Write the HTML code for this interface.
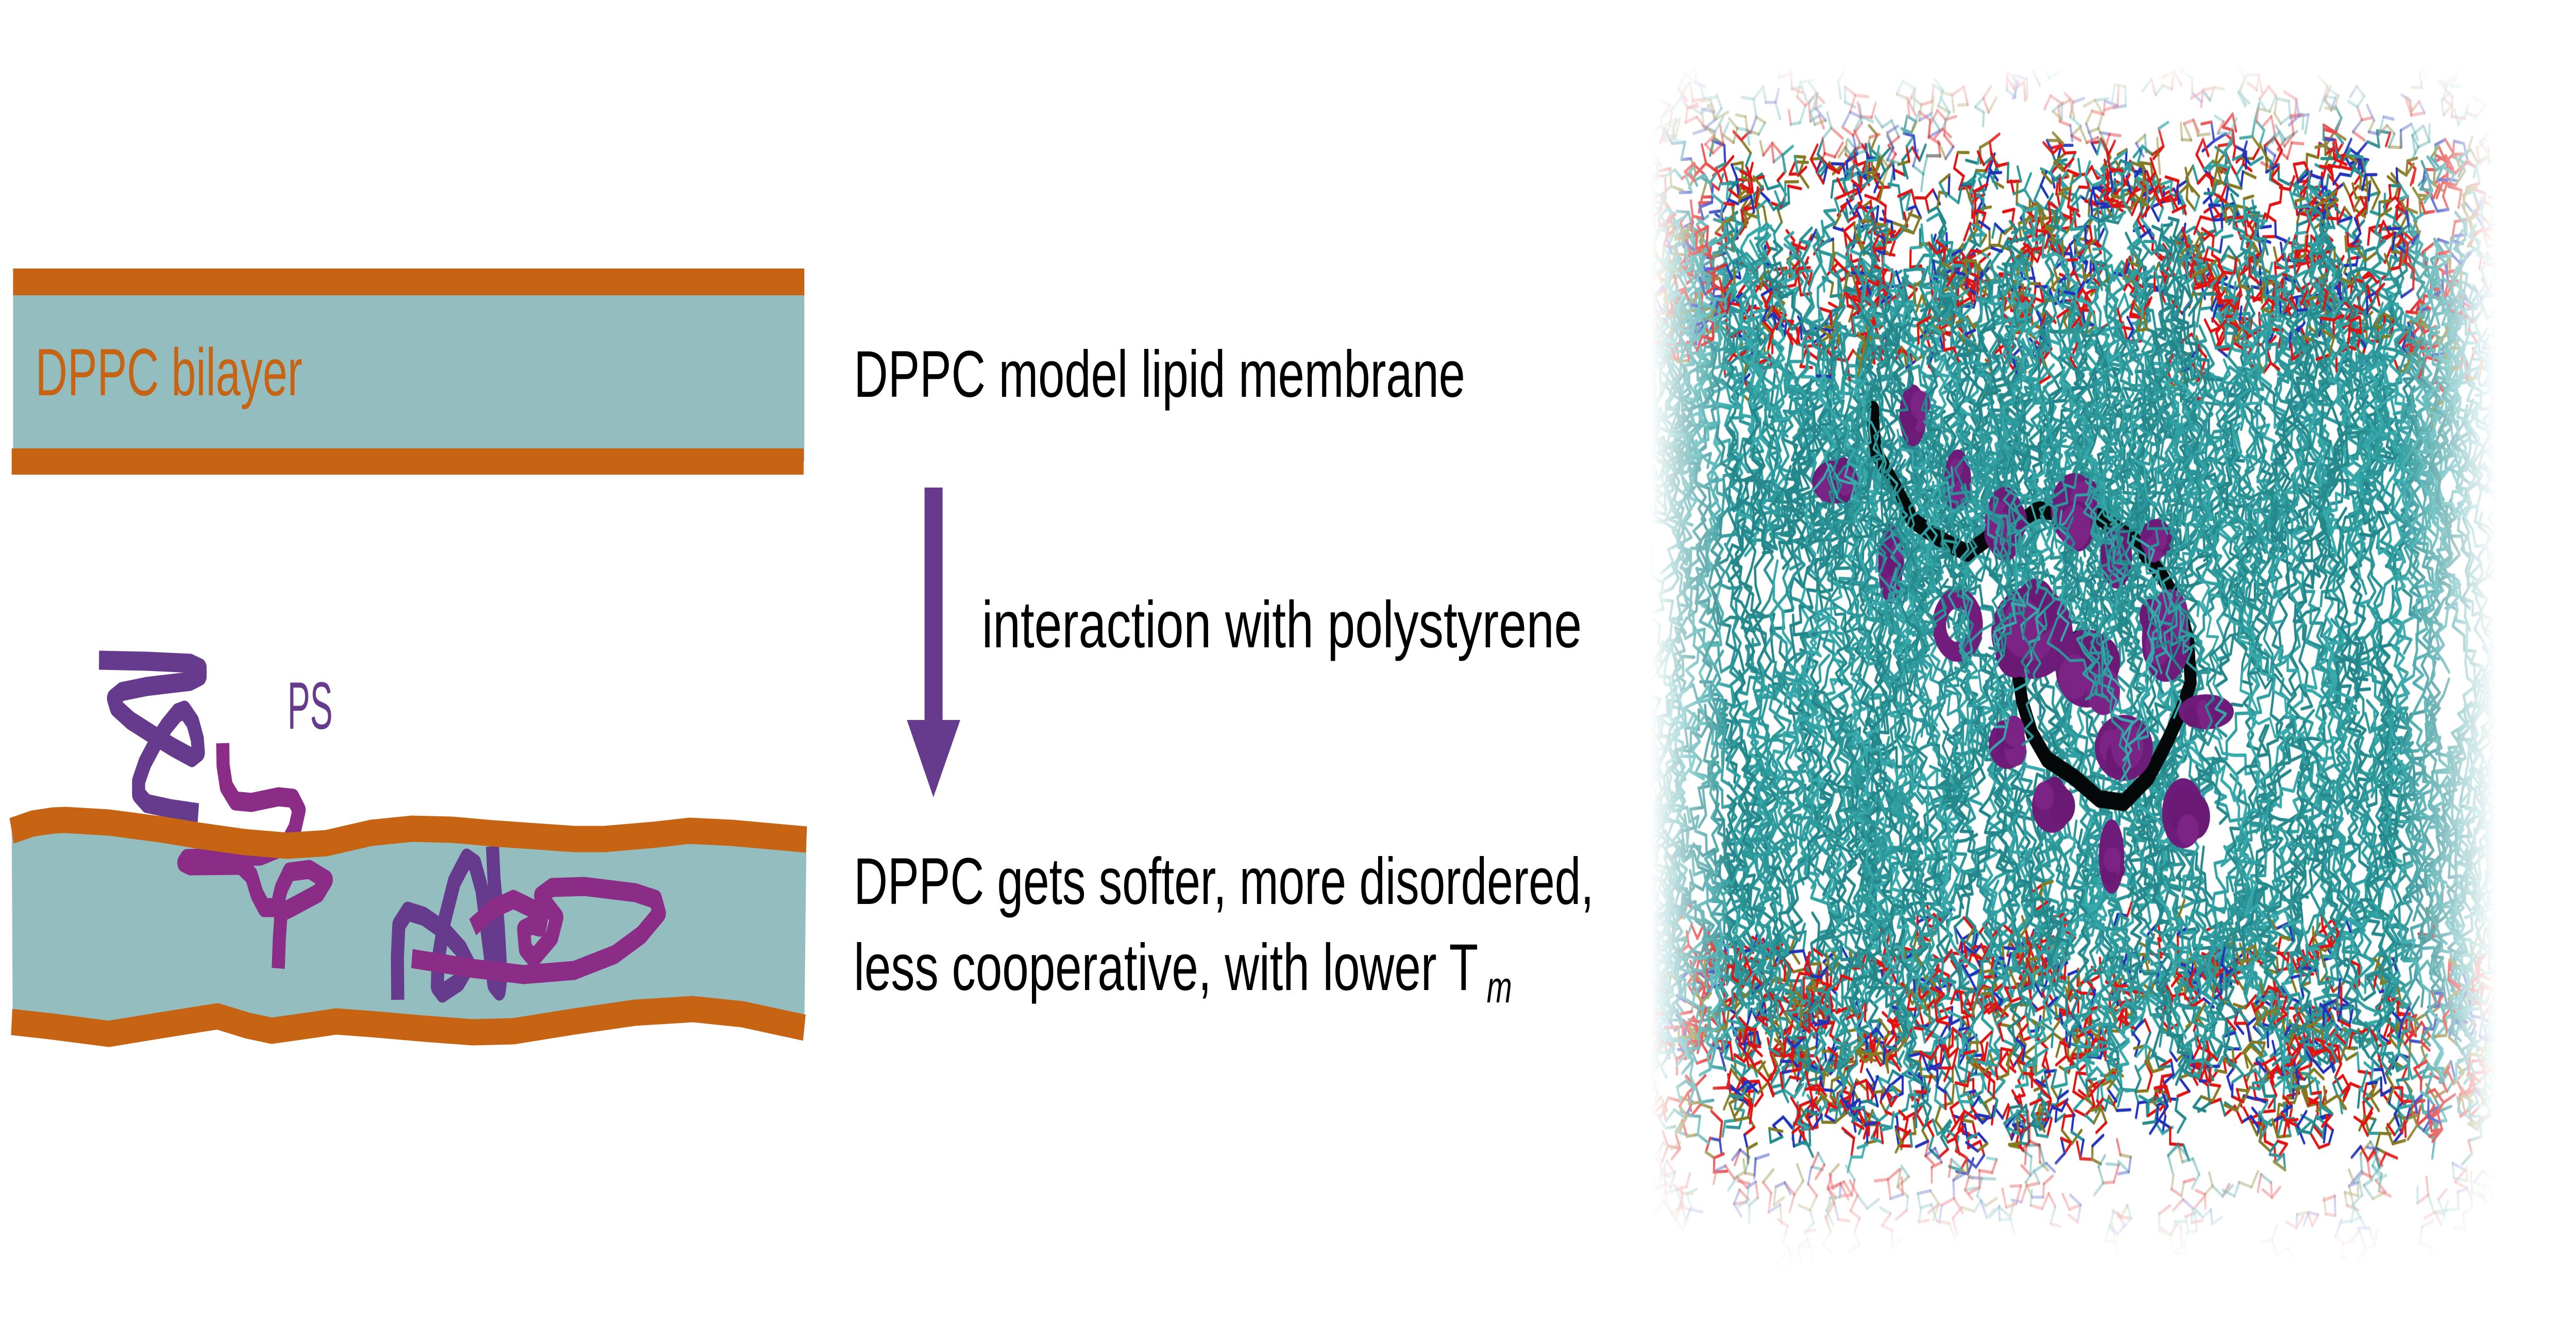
<!DOCTYPE html>
<html>
<head>
<meta charset="utf-8">
<style>
html,body{margin:0;padding:0;width:100%;height:100%;overflow:hidden;background:#fff;}
#wrap{position:relative;width:100vw;height:100vh;overflow:hidden;}
#wrap svg{position:absolute;left:0;top:0;width:100%;height:100%;}
svg text{font-family:"Liberation Sans",Arial,sans-serif;}
#fb{position:absolute;left:65.605%;top:10.761%;width:30.195%;height:77.633%;background:#8cc0c0;filter:blur(30px);}
#md{position:absolute;left:63.1348%;top:0;width:36.8652%;height:100%;}
</style>
</head>
<body>
<div id="wrap">
<svg viewBox="0 0 7286 2602" preserveAspectRatio="none">
  <!-- top flat bilayer -->
  <rect x="37" y="548" width="2238" height="348" fill="#94bdbf"/>
  <rect x="37" y="521" width="2238" height="52" fill="#c66414"/>
  <rect x="33" y="870" width="2240" height="51" fill="#c66414"/>
  <text x="100" y="767" font-size="130" textLength="755" lengthAdjust="spacingAndGlyphs" fill="#c66414">DPPC bilayer</text>

  <!-- bottom perturbed bilayer: teal body -->
  <polygon fill="#94bdbf" points="33,1612 92,1598 150,1592 185,1591 308,1596 462,1610 558,1621 692,1634 813,1641 923,1636 1050,1616 1165,1608 1280,1610 1394,1617 1624,1628 1710,1628 1846,1620 1950,1612 2070,1616 2281,1629 2275,1994 2100,1968 1960,1958 1796,1965 1624,1982 1452,2001 1337,2003 1200,1996 1050,1987 950,1982 892,1988 830,1994 769,2000 700,1990 615,1972 450,1990 308,2006 150,1992 36,1983"/>

  <!-- polymer chains -->
  <g fill="none" stroke-width="37" stroke-linejoin="round" stroke-linecap="butt">
    <polyline stroke="#663a8c" points="280,1281 415,1283 538,1287 566,1296 566,1312 538,1322 415,1332 344,1342 321,1355 329,1373 369,1398 433,1426 487,1449 543,1470 561,1460 558,1434 545,1401 522,1378 502,1383 471,1409 438,1444 410,1480 392,1516 392,1541 415,1559 482,1569 561,1577"/>
    <polyline stroke="#8b2d87" points="630,1442 631,1485 640,1526 665,1554 711,1557 788,1546 829,1549 846,1572 834,1608 808,1641 737,1661 528,1666 520,1674 538,1680 681,1679 711,1699 727,1735 747,1761 783,1761 795,1725 818,1692 875,1687 923,1707 900,1733 824,1761 795,1771 790,1822 787,1879"/>
    <polyline stroke="#663a8c" points="1125,1940 1124,1856 1128,1795 1153,1768 1199,1778 1257,1806 1303,1841 1326,1872 1297,1906 1251,1927 1237,1914 1239,1864 1257,1787 1285,1711 1320,1665 1343,1676 1363,1726 1380,1818 1397,1910 1412,1923 1417,1894 1409,1795 1397,1703 1393,1642"/>
    <polyline stroke="#8b2d87" points="1165,1860 1337,1879 1481,1891 1624,1883 1739,1852 1814,1814 1865,1772 1854,1745 1796,1732 1653,1720 1561,1722 1529,1738 1549,1757 1575,1780 1561,1818 1509,1860 1486,1841 1481,1803 1504,1795 1527,1799 1532,1780 1509,1764 1452,1745 1394,1764 1337,1799"/>
  </g>

  <!-- orange leaflets -->
  <g fill="none" stroke="#c66414" stroke-width="51" stroke-linejoin="round" stroke-linecap="butt">
    <polyline points="33,1612 92,1598 150,1592 185,1591 308,1596 462,1610 558,1621 692,1634 813,1641 923,1636 1050,1616 1165,1608 1280,1610 1394,1617 1624,1628 1710,1628 1846,1620 1950,1612 2070,1616 2281,1629"/>
    <polyline points="33,1983 150,1992 308,2006 450,1990 615,1972 700,1990 769,2000 830,1994 892,1988 950,1982 1050,1987 1200,1996 1337,2003 1452,2001 1624,1982 1796,1965 1960,1958 2100,1968 2275,1994"/>
  </g>
  <text x="813" y="1414" font-size="130" textLength="128" lengthAdjust="spacingAndGlyphs" fill="#663a8c">PS</text>

  <!-- arrow -->
  <rect x="2615" y="946" width="51" height="452" fill="#663a8c"/>
  <polygon points="2565,1397 2716,1397 2640,1547" fill="#663a8c"/>

  <!-- texts -->
  <text x="2415" y="770" font-size="128" textLength="1729" lengthAdjust="spacingAndGlyphs" fill="#000">DPPC model lipid membrane</text>
  <text x="2777" y="1256" font-size="128" textLength="1697" lengthAdjust="spacingAndGlyphs" fill="#000">interaction with polystyrene</text>
  <text x="2415" y="1754" font-size="128" textLength="2093" lengthAdjust="spacingAndGlyphs" fill="#000">DPPC gets softer, more disordered,</text>
  <text x="2415" y="1921" font-size="128" textLength="1766" lengthAdjust="spacingAndGlyphs" fill="#000">less cooperative, with lower T</text>
  <text x="4205" y="1945" font-size="86" font-style="italic" fill="#000">m</text>
</svg>

<div id="fb"></div>
<canvas id="md" width="2686" height="2602"></canvas>
</div>

<script>
(function(){
var c=document.getElementById('md');if(!c||!c.getContext)return;
var g=c.getContext('2d');var W=c.width,H=c.height;
g.fillStyle='#fff';g.fillRect(0,0,W,H);
var s=12345;function R(){s=(s*16807)%2147483647;return (s-1)/2147483646;}
g.lineCap='round';g.lineJoin='round';
var TE=['#2b9598','#30a0a2','#268a8d','#37a9ab','#2d999b','#23868a'];
function tail(x,y,dir,n,lw){
  var b=(dir>0?1.5708:-1.5708)+(R()-0.5)*1.2, sd=R()<.5?1:-1;
  g.beginPath();g.moveTo(x,y);
  for(var i=0;i<n;i++){
    var a=b+sd*(0.4+R()*0.7)+(R()-0.5)*0.5; sd=-sd;
    if(R()<0.15) sd=-sd;
    var L=26+R()*14; x+=Math.cos(a)*L; y+=Math.sin(a)*L; g.lineTo(x,y);
    if(R()<0.18) b+=(R()-0.5)*1.3;
  }
  g.strokeStyle=TE[(R()*TE.length)|0]; g.lineWidth=lw||6.5; g.stroke();
}
function head(x,y,n,al){
  var a=R()*6.283;
  g.globalAlpha=al; g.lineWidth=6;
  for(var i=0;i<n;i++){
    a+=(R()<.5?1:-1)*(0.9+R()*1.3);
    var L=26+R()*12, nx=x+Math.cos(a)*L, ny=y+Math.sin(a)*L;
    var r=R(), col=r<0.33?'#e01212':r<0.68?TE[(R()*TE.length)|0]:r<0.82?'#2233bb':'#857a22';
    g.strokeStyle=col;
    g.beginPath();g.moveTo(x,y);g.lineTo(nx,ny);g.stroke();
    if(R()<0.25){
      var bb=a+(R()<.5?1.9:-1.9),bx=x+Math.cos(bb)*L,by=y+Math.sin(bb)*L;
      g.beginPath();g.moveTo(x,y);g.lineTo(bx,by);g.stroke();
    }
    x=nx;y=ny;
  }
  g.globalAlpha=1;
}
var i;
for(i=0;i<520;i++){
  tail(-50+R()*2560, 400+R()*600, 1, 14+(R()*7|0));
  tail(-50+R()*2560, 1500+R()*620, -1, 14+(R()*7|0));
  if(i<390){
    head(-30+R()*2520, 300+R()*370, 6+(R()*4|0), 1);
    head(-30+R()*2520, 1830+R()*370, 6+(R()*4|0), 1);
  }
}
for(i=0;i<70;i++){
  head(R()*2450, 160+R()*120, 4+(R()*3|0), 0.5);
  head(R()*2450, 2250+R()*140, 4+(R()*3|0), 0.5);
}
/* polymer */
var P=[[698,795],[698,820],[705,876],[761,946],[810,1010],[902,1052],[965,1073],[1021,1045],[1091,1031],[1161,989],[1245,996],[1337,1003],[1442,1052],[1512,1115],[1561,1171],[1589,1241],[1596,1325],[1568,1381],[1526,1444],[1477,1508],[1407,1557],[1337,1550],[1266,1508],[1189,1473],[1147,1423],[1119,1360],[1105,1297],[1140,1241],[1182,1234]];
g.strokeStyle='#050808';g.lineWidth=34;g.beginPath();g.moveTo(P[0][0],P[0][1]);
for(i=1;i<P.length;i++)g.lineTo(P[i][0],P[i][1]);g.stroke();
g.beginPath();g.moveTo(1273,1241);g.lineTo(1340,1280);g.lineTo(1372,1332);g.stroke();
var B=[[590,935,65,42],[747,1094,35,77],[937,932,38,60],[810,806,38,60],[1070,1017,55,72],[1266,988,66,70],[1386,1080,44,62],[1498,1045,45,38],[1147,1227,115,90],[1302,1297,88,76],[1526,1241,68,82],[1640,1381,78,34],[1407,1451,82,64],[1203,1564,56,52],[1077,1444,52,48],[1372,1662,36,72],[1575,1578,60,68]];
for(i=0;i<B.length;i++){
  var b=B[i];
  g.fillStyle='#6e1c79';g.beginPath();g.ellipse(b[0],b[1],b[2],b[3],0,0,6.2832);g.fill();
  for(var k=0;k<4;k++){
    var ox=(R()-0.5)*b[2]*1.2, oy=(R()-0.5)*b[3]*1.2, rr=Math.min(b[2],b[3])*(0.45+R()*0.3);
    g.fillStyle=k%2?'#7c2386':'#6a1a74';g.beginPath();g.arc(b[0]+ox,b[1]+oy,rr,0,6.2832);g.fill();
  }
}
g.strokeStyle='#721d7c';g.lineWidth=38;g.beginPath();g.arc(937,1213,52,0,6.2832);g.stroke();
/* some tails over polymer */
for(i=0;i<170;i++){ tail(500+R()*1300, 650+R()*550, 1, 10+(R()*6|0), 5.5); }
/* white fades */
function gr(x0,y0,x1,y1,st){var q=g.createLinearGradient(x0,y0,x1,y1);for(var k=0;k<st.length;k++)q.addColorStop(st[k][0],'rgba(255,255,255,'+st[k][1]+')');return q;}
g.fillStyle=gr(0,0,300,0,[[0,1],[0.23,1],[0.38,0.8],[0.66,0.4],[1,0]]);g.fillRect(0,0,300,H);
g.fillStyle=gr(2180,0,2500,0,[[0,0],[0.375,0.4],[0.69,0.8],[0.875,1],[1,1]]);g.fillRect(2180,0,320,H);
g.fillStyle='#fff';g.fillRect(2500,0,W-2500,H);
g.fillStyle=gr(0,0,0,300,[[0,1],[0.43,1],[0.63,0.6],[0.87,0.2],[1,0]]);g.fillRect(0,0,W,300);
g.fillStyle=gr(0,2220,0,2460,[[0,0],[0.38,0.45],[0.75,0.9],[1,1]]);g.fillRect(0,2220,W,240);
g.fillStyle='#fff';g.fillRect(0,2460,W,H-2460);
})();
</script>
</body>
</html>
